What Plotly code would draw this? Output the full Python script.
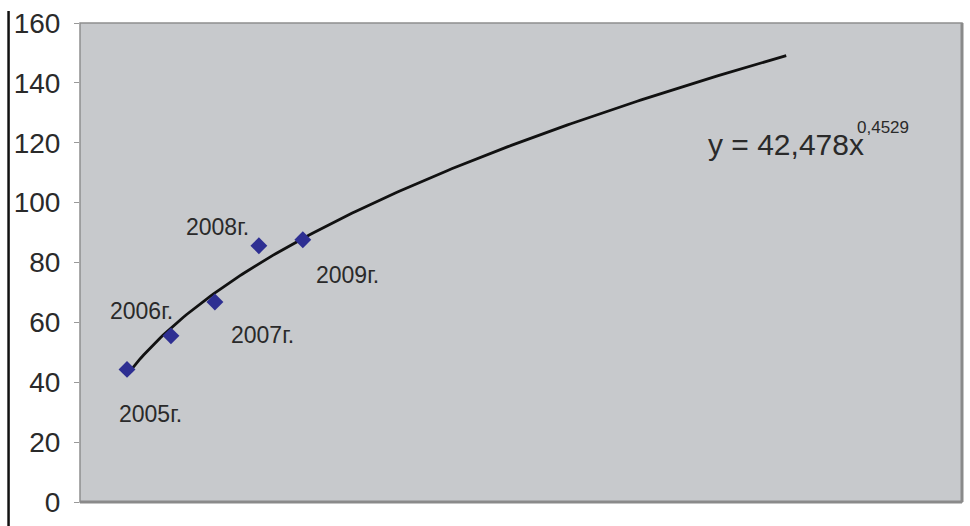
import numpy as np
import plotly.graph_objects as go

# Observed values by year
years = ["2005г.", "2006г.", "2007г.", "2008г.", "2009г."]
x_idx = [1, 2, 3, 4, 5]
values = [44.3, 55.5, 66.8, 85.6, 87.6]

# Power trend y = a * x^b
coef_a = 42.478
coef_b = 0.4529
trend_x = np.linspace(1, 16, 200)
trend_y = coef_a * trend_x ** coef_b

# Label offsets (pixels) for the year labels around each marker
label_shift = [(23, -45), (-29, 25), (48, -33), (-41, 19), (45, -35)]

y_ticks = [0, 20, 40, 60, 80, 100, 120, 140, 160]

FONT = "Arial, Liberation Sans, sans-serif"
TXT = "#2a2a2a"

fig = go.Figure()

fig.add_trace(go.Scatter(
    x=trend_x, y=trend_y, mode="lines",
    line=dict(color="#111111", width=2.8),
    hoverinfo="skip", showlegend=False,
))

fig.add_trace(go.Scatter(
    x=x_idx, y=values, mode="markers",
    marker=dict(symbol="diamond", size=13, color="#2e2f92"),
    showlegend=False,
))

for xi, yi, lab, (dx, dy) in zip(x_idx, values, years, label_shift):
    fig.add_annotation(
        x=xi, y=yi, xref="x", yref="y", text=lab, showarrow=False,
        xshift=dx, yshift=dy,
        font=dict(family=FONT, size=23, color=TXT),
    )

# Trend equation
fig.add_annotation(
    x=16.0, y=119.3, xref="x", yref="y", showarrow=False,
    text=f"y = {coef_a:.3f}x".replace(".", ","),
    font=dict(family=FONT, size=30, color=TXT),
)
fig.add_annotation(
    x=18.2, y=125.0, xref="x", yref="y", showarrow=False,
    text=f"{coef_b:.4f}".replace(".", ","),
    font=dict(family=FONT, size=17, color=TXT),
)

shapes = [
    # plot-area frame
    dict(type="rect", xref="paper", yref="paper", x0=0, x1=1, y0=0, y1=1,
         line=dict(color="#8e8e8e", width=1.5), layer="above"),
    # darker right / bottom edge
    dict(type="line", xref="paper", yref="paper", x0=1, x1=1, y0=0, y1=1,
         line=dict(color="#8a8a8a", width=3), layer="above"),
    dict(type="line", xref="paper", yref="paper", x0=0, x1=1, y0=0, y1=0,
         line=dict(color="#8a8a8a", width=3), layer="above"),
    # vertical rule at the far left
    dict(type="line", xref="paper", yref="paper", x0=-0.081, x1=-0.081,
         y0=-0.05, y1=1.025, line=dict(color="#111111", width=2.5)),
]

fig.update_layout(
    width=970, height=526,
    margin=dict(l=80, r=8, t=22, b=20),
    paper_bgcolor="white",
    plot_bgcolor="#c7c9cc",
    shapes=shapes,
    xaxis=dict(range=[-0.07, 20], visible=False, showgrid=False, zeroline=False),
    yaxis=dict(
        range=[0, 160], tickvals=y_ticks, showgrid=False, zeroline=False,
        ticks="outside", ticklen=5, tickcolor="#999999", tickwidth=1,
        showline=False,
        tickfont=dict(family=FONT, size=28, color=TXT),
        ticklabelstandoff=8,
    ),
)

fig.write_html("out.html")
